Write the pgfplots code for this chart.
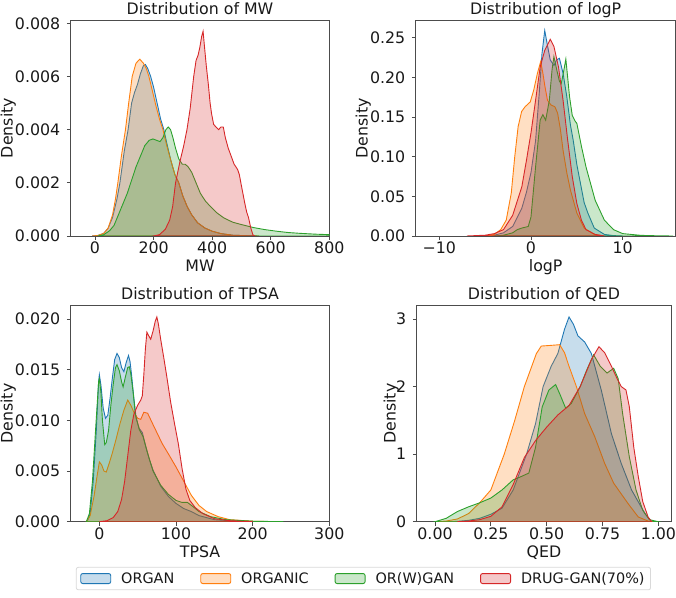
\documentclass[border=0pt]{standalone}
\usepackage{pgfplots}
\pgfplotsset{compat=1.18}
\usepackage{fontspec}
\setmainfont{DejaVu Sans}
\definecolor{cB}{HTML}{1F77B4}
\definecolor{cO}{HTML}{FF7F0E}
\definecolor{cG}{HTML}{2CA02C}
\definecolor{cR}{HTML}{D62728}
\newcommand{\fs}{\fontsize{15.8pt}{19pt}\selectfont}
\newcommand{\lfs}{\fontsize{14.4pt}{17pt}\selectfont}
\pgfplotsset{
  kde/.style={fill=#1, fill opacity=0.25, draw=#1, draw opacity=1, line width=0.9pt},
  panel/.style={
    scale only axis, anchor=south west,
    axis line style={black!70, line width=0.8pt},
    tick style={black!70, line width=0.8pt},
    tick align=outside, tick pos=left, major tick length=3.8pt,
    ticklabel style={font=\fs, text=black!90},
    xticklabel style={anchor=north, inner sep=0pt},
    xticklabel shift=2pt,
    yticklabel style={anchor=east, inner sep=0pt, xshift=-6.5pt},
    every axis x label/.style={at={(axis description cs:0.5,0)}, anchor=base, yshift=-35.8pt, font=\fs, text=black!90},
    every axis title/.style={at={(axis description cs:0.5,1)}, anchor=base, yshift=5.7pt, font=\fs, text=black!90},
    /pgf/number format/assume math mode=true,
    scaled ticks=false,
  },
}
\begin{document}
\begin{tikzpicture}
\path[use as bounding box] (0pt,0pt) rectangle (676pt,597pt);

% ---------------- MW ----------------
\begin{axis}[panel, at={(70.7pt,361pt)}, width=258.6pt, height=216pt,
  xmin=-83, xmax=800, ymin=0, ymax=0.008124,
  xtick={0,200,400,600,800}, xticklabels={0,200,400,600,800},
  ytick={0,0.002,0.004,0.006,0.008}, yticklabels={0.000,0.002,0.004,0.006,0.008},
  title={Distribution of MW}, xlabel={MW},
  every axis y label/.style={at={(axis description cs:-0.225,0.5)}, rotate=90, anchor=base, font=\fs, text=black!90},
  ylabel={Density}]
\addplot[kde=cB] table {
-10 0
10 0.00002
30 0.0001
45 0.0003
60 0.0007
75 0.0014
85 0.0020
100 0.0032
113 0.0040
125 0.0050
135 0.0054
145 0.0057
155 0.0061
165 0.0064
172 0.00645
180 0.0063
190 0.0060
200 0.0056
212 0.0050
224 0.0044
235 0.0040
247 0.0034
260 0.0028
273 0.0023
286 0.0020
300 0.0015
315 0.0011
330 0.0008
350 0.0005
375 0.0003
400 0.00018
430 0.00009
470 0.00003
520 0.00001
560 0
} \closedcycle;
\addplot[kde=cO] table {
-10 0
10 0.00002
30 0.0001
45 0.0003
60 0.0008
70 0.0014
78 0.0020
90 0.0030
104 0.0040
115 0.0050
127 0.0060
140 0.0065
153 0.00665
165 0.0065
175 0.0063
184 0.0060
195 0.0055
208 0.0049
220 0.0044
232 0.0040
245 0.0034
260 0.0028
273 0.0023
286 0.0020
300 0.0015
315 0.0011
330 0.0008
350 0.0005
375 0.0003
400 0.00018
430 0.00009
470 0.00003
520 0.00001
560 0
} \closedcycle;
\addplot[kde=cG] table {
10 0
30 0.00005
50 0.0002
65 0.0004
80 0.0008
95 0.0012
110 0.0016
125 0.0021
140 0.0026
155 0.0030
170 0.0034
185 0.0036
198 0.00365
210 0.0036
222 0.00355
232 0.0037
242 0.0040
250 0.0041
258 0.0040
266 0.0037
275 0.0033
286 0.0029
298 0.0027
308 0.0027
318 0.0026
330 0.0024
345 0.0020
360 0.0016
378 0.0013
395 0.0011
415 0.00088
440 0.00068
470 0.00052
500 0.00043
540 0.00032
580 0.00024
620 0.00018
660 0.00013
700 0.0001
750 0.00007
800 0.00005
} \closedcycle;
\addplot[kde=cR] table {
200 0
220 0.00005
240 0.00025
255 0.0006
265 0.0011
275 0.0020
290 0.0028
303 0.0034
314 0.0040
325 0.0048
337 0.0060
345 0.0066
352 0.0068
358 0.0071
364 0.0075
369 0.0077
374 0.0071
380 0.0064
387 0.0057
393 0.0050
398 0.0046
405 0.0042
413 0.0041
422 0.0040
430 0.0041
438 0.0041
445 0.0037
455 0.0033
465 0.0030
475 0.0027
487 0.0025
493 0.0023
498 0.0020
505 0.0016
512 0.0012
518 0.0009
524 0.0007
532 0.0003
539 0.00005
545 0
} \closedcycle;
\end{axis}

% ---------------- logP ----------------
\begin{axis}[panel, at={(415.7pt,361pt)}, width=260pt, height=215.3pt,
  xmin=-12.57, xmax=15.78, ymin=0, ymax=0.2714,
  xtick={-10,0,10}, xticklabels={−10,0,10},
  ytick={0,0.05,0.1,0.15,0.2,0.25}, yticklabels={0.00,0.05,0.10,0.15,0.20,0.25},
  title={Distribution of logP}, xlabel={logP},
  every axis y label/.style={at={(axis description cs:-0.185,0.5)}, rotate=90, anchor=base, font=\fs, text=black!90},
  ylabel={Density}]
\addplot[kde=cB] table {
-6 0
-4 0.001
-3 0.004
-2 0.012
-1 0.035
-0.5 0.055
0 0.08
0.5 0.12
0.9 0.18
1.2 0.23
1.5 0.259
1.8 0.24
2.1 0.222
2.5 0.215
2.8 0.222
3.1 0.224
3.5 0.205
3.9 0.176
4.3 0.14
4.6 0.121
5.0 0.09
5.4 0.066
5.8 0.042
6.2 0.029
6.9 0.01
8 0.002
9 0.0005
10 0
} \closedcycle;
\addplot[kde=cO] table {
-5 0
-4 0.002
-3.3 0.008
-2.7 0.02
-2.15 0.054
-1.77 0.1
-1.4 0.138
-1.02 0.157
-0.64 0.163
-0.08 0.169
0.3 0.184
0.7 0.205
1.06 0.22
1.3 0.205
1.5 0.19
1.8 0.171
2.2 0.165
2.6 0.163
2.9 0.155
3.2 0.135
3.5 0.108
3.9 0.08
4.3 0.058
5.0 0.029
5.8 0.01
6.9 0.002
8 0
} \closedcycle;
\addplot[kde=cG] table {
-4 0
-3 0.001
-2 0.004
-1.5 0.008
-1 0.01
-0.3 0.012
0 0.024
0.5 0.087
1 0.146
1.3 0.153
1.6 0.146
2 0.171
2.3 0.21
2.5 0.226
2.8 0.21
3.1 0.195
3.3 0.192
3.6 0.21
3.8 0.223
4.0 0.2
4.2 0.176
4.5 0.152
4.8 0.145
5 0.142
5.5 0.113
6 0.087
7 0.045
8 0.02
9 0.008
10 0.003
12 0.0008
14 0.0002
15.5 0
} \closedcycle;
\addplot[kde=cR] table {
-7 0
-5 0.001
-4 0.003
-3 0.008
-2 0.026
-1 0.062
-0.5 0.095
0 0.13
0.5 0.171
1 0.213
1.5 0.234
2.1 0.248
2.5 0.239
3 0.213
3.5 0.171
4 0.121
4.5 0.075
5 0.041
5.5 0.02
6 0.008
7 0.002
8 0
} \closedcycle;
\end{axis}

% ---------------- TPSA ----------------
\begin{axis}[panel, at={(70.7pt,75.3pt)}, width=258.6pt, height=216.4pt,
  xmin=-37.4, xmax=300, ymin=0, ymax=0.02135,
  xtick={0,100,200,300}, xticklabels={0,100,200,300},
  ytick={0,0.005,0.01,0.015,0.02}, yticklabels={0.000,0.005,0.010,0.015,0.020},
  title={Distribution of TPSA}, xlabel={TPSA},
  every axis y label/.style={at={(axis description cs:-0.225,0.5)}, rotate=90, anchor=base, font=\fs, text=black!90},
  ylabel={Density},
  legend columns=4,
  legend image code/.code={\draw[#1] (0pt,-5pt) rectangle (30pt,5pt);},
  legend style={at={(axis description cs:1.132,-0.2627)}, anchor=center, draw=black!15, line width=0.8pt, rounded corners=2pt, fill=white, font=\lfs, text=black!90,
    inner xsep=4pt, inner ysep=3pt,
    /tikz/every odd column/.append style={column sep=8pt},
    /tikz/every even column/.append style={column sep=24pt}},
  legend cell align=left]
\addplot[kde=cB] table {
-16 0
-12 0.0008
-8 0.004
-4 0.009
-1 0.0138
0 0.0145
2 0.0135
5 0.0112
8 0.0102
11 0.0105
14 0.0122
17 0.0142
20 0.0160
23 0.0166
26 0.0162
29 0.0152
32 0.0148
35 0.0157
38 0.0164
40 0.0158
42 0.0145
45 0.0122
48 0.0102
52 0.0092
56 0.0088
60 0.0076
65 0.0062
70 0.0051
80 0.0035
90 0.0025
100 0.0018
110 0.0013
120 0.0010
130 0.0006
150 0.0002
180 0.00005
220 0
} \closedcycle;
\addlegendentry{ORGAN}
\addplot[kde=cO] table {
-17 0
-12 0.0006
-7 0.0025
-3 0.0045
0 0.0059
3 0.0056
6 0.0050
9 0.0049
13 0.0058
17 0.0068
22 0.0082
27 0.0097
32 0.0110
37 0.0120
41 0.0115
45 0.0108
50 0.0102
54 0.0101
58 0.0108
63 0.0107
68 0.0099
75 0.0088
82 0.0077
90 0.0067
100 0.0054
110 0.0040
120 0.0026
130 0.0016
140 0.0010
155 0.0005
170 0.0002
200 0.00005
230 0
} \closedcycle;
\addlegendentry{ORGANIC}
\addplot[kde=cG] table {
-17 0
-13 0.0008
-9 0.004
-5 0.009
-1 0.0138
0 0.0141
2 0.0128
4 0.010
7 0.0076
9 0.0078
12 0.0090
15 0.0115
18 0.0135
21 0.0152
23 0.0155
26 0.0149
29 0.0138
31 0.0133
34 0.0143
37 0.0152
39 0.0153
41 0.0146
44 0.0128
47 0.0106
52 0.0091
57 0.0084
62 0.0070
70 0.0050
80 0.0036
90 0.0027
100 0.0021
108 0.0019
115 0.0019
122 0.0015
130 0.0010
145 0.0005
165 0.0002
200 0.00005
240 0
} \closedcycle;
\addlegendentry{OR(W)GAN}
\addplot[kde=cR] table {
0 0
10 0.0001
18 0.0004
24 0.0010
29 0.0022
33 0.0040
37 0.0065
41 0.0090
45 0.0106
50 0.0115
54 0.0120
56 0.0124
58 0.0145
60 0.0170
62 0.0187
64 0.0184
67 0.0180
70 0.0188
73 0.0198
75 0.0202
77 0.0195
80 0.0180
84 0.0162
88 0.0143
93 0.0118
98 0.0097
103 0.0077
108 0.0052
113 0.0032
118 0.0021
125 0.0014
135 0.0008
150 0.0003
170 0.0001
200 0
} \closedcycle;
\addlegendentry{DRUG-GAN(70\%)}
\end{axis}

% ---------------- QED ----------------
\begin{axis}[panel, at={(416.7pt,75.3pt)}, width=254.6pt, height=216.4pt,
  xmin=-0.082, xmax=1.058, ymin=0, ymax=3.203,
  xtick={0,0.25,0.5,0.75,1}, xticklabels={0.00,0.25,0.50,0.75,1.00},
  ytick={0,1,2,3}, yticklabels={0,1,2,3},
  title={Distribution of QED}, xlabel={QED},
  every axis y label/.style={at={(axis description cs:-0.083,0.5)}, rotate=90, anchor=base, font=\fs, text=black!90},
  ylabel={Density}]
\addplot[kde=cB] table {
0.05 0
0.1 0.005
0.15 0.02
0.2 0.05
0.25 0.11
0.3 0.2
0.35 0.47
0.41 1.0
0.45 1.45
0.484 2.0
0.52 2.3
0.55 2.49
0.58 2.85
0.6 3.03
0.62 2.92
0.64 2.75
0.67 2.66
0.7 2.49
0.745 1.94
0.79 1.3
0.834 0.86
0.88 0.47
0.94 0.12
0.97 0
} \closedcycle;
\addplot[kde=cO] table {
0 0
0.05 0.01
0.1 0.04
0.15 0.12
0.2 0.28
0.25 0.47
0.31 1.0
0.357 1.5
0.4 2.0
0.454 2.49
0.476 2.6
0.52 2.61
0.558 2.62
0.58 2.5
0.6 2.3
0.633 2.0
0.67 1.6
0.715 1.26
0.76 0.86
0.8 0.57
0.864 0.27
0.91 0.07
0.954 0.01
0.98 0
} \closedcycle;
\addplot[kde=cG] table {
0 0
0.05 0.05
0.1 0.15
0.15 0.22
0.2 0.28
0.25 0.35
0.3 0.47
0.35 0.62
0.38 0.66
0.42 0.72
0.45 1.1
0.48 1.7
0.51 1.95
0.54 2.03
0.56 1.88
0.585 1.68
0.61 1.75
0.65 2.0
0.68 2.25
0.71 2.47
0.74 2.3
0.77 2.2
0.8 2.27
0.82 2.12
0.84 1.6
0.87 0.96
0.9 0.47
0.93 0.17
0.96 0.03
1.0 0
} \closedcycle;
\addplot[kde=cR] table {
0.1 0
0.15 0.01
0.2 0.03
0.25 0.08
0.3 0.22
0.35 0.55
0.4 0.95
0.45 1.2
0.5 1.4
0.55 1.58
0.6 1.72
0.65 2.0
0.7 2.4
0.734 2.59
0.76 2.5
0.79 2.3
0.815 2.12
0.834 2.0
0.855 1.95
0.87 1.7
0.89 1.1
0.91 0.67
0.93 0.3
0.954 0.07
0.97 0
} \closedcycle;
\end{axis}
\end{tikzpicture}
\end{document}
